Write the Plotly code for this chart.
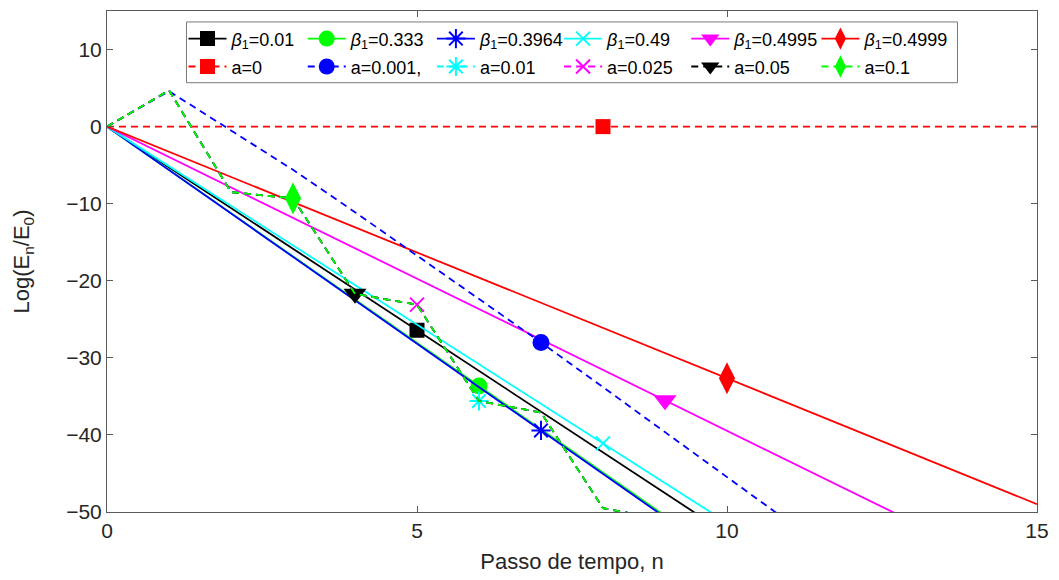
import plotly.graph_objects as go

# ---------------- data ----------------
n = [0, 1, 2, 3, 4, 5, 6, 7, 8, 9, 10, 11, 12, 13, 14, 15]

beta_labels = ["0.01", "0.333", "0.3964", "0.49", "0.4995", "0.4999"]
beta_001 = [0, -5.28, -10.57, -15.85, -21.13, -26.42, -31.70, -36.98, -42.26, -47.55, -52.83]
beta_0333 = [0, -5.61, -11.22, -16.83, -22.44, -28.05, -33.65, -39.26, -44.87, -50.48]
beta_03964 = [0, -5.63, -11.26, -16.90, -22.53, -28.16, -33.79, -39.42, -45.06, -50.69]
beta_049 = [0, -5.14, -10.28, -15.41, -20.55, -25.69, -30.83, -35.97, -41.10, -46.24, -51.38]
beta_04995 = [0, -3.95, -7.89, -11.84, -15.78, -19.73, -23.68, -27.62, -31.57, -35.51,
              -39.46, -43.41, -47.35, -51.30]
beta_04999 = [0, -3.27, -6.53, -9.80, -13.06, -16.33, -19.59, -22.86, -26.12, -29.39,
              -32.65, -35.92, -39.18, -42.45, -45.71, -48.98]

a_labels = ["0", "0.001,", "0.01", "0.025", "0.05", "0.1"]
a_0 = [0, 0, 0, 0, 0, 0, 0, 0, 0, 0, 0, 0, 0, 0, 0, 0]
a_0001 = [0, 4.6, -0.5, -5.6, -11.1, -16.7, -22.35, -28.0, -33.8, -39.65, -45.5, -51.3]
a_001 = [0, 4.7, -8.5, -9.3, -21.7, -23.1, -35.6, -37.1, -49.5, -51.0]
a_0025 = [0, 4.7, -8.5, -9.3, -21.7, -23.1, -35.6, -37.1, -49.5, -51.0]
a_005 = [0, 4.7, -8.5, -9.3, -21.7, -23.1, -35.6, -37.1, -49.5, -51.0]
a_01 = [0, 4.7, -8.5, -9.3, -21.7, -23.1, -35.6, -37.1, -49.5, -51.0]

beta_marker_n = [5, 6, 7, 8, 9, 10]
a_marker_n = [8, 7, 6, 5, 4, 3]

# ---------------- styles ----------------
colors_beta = ["#000000", "#00ff00", "#0000ff", "#00ffff", "#ff00ff", "#ff0000"]
colors_a = ["#ff0000", "#0000ff", "#00ffff", "#ff00ff", "#000000", "#00ff00"]
symbols = ["square", "circle", "asterisk-open", "x-thin-open", "triangle-down", "diamond-tall"]
sizes = [15, 17, 16, 14, 20, 23]

beta_series = [beta_001, beta_0333, beta_03964, beta_049, beta_04995, beta_04999]
a_series = [a_0, a_0001, a_001, a_0025, a_005, a_01]

FONT = "Liberation Sans, Arial, sans-serif"
L, R, T, B = 107, 16, 10, 67
W, H = 1059, 580
PW, PH = W - L - R, H - T - B

fig = go.Figure()


def add_series(vals, label, color, symbol, size, dash, mark_n, legend_id):
    xs = n[:len(vals)]
    line = dict(color=color, width=1.8, dash=dash)
    fig.add_trace(go.Scatter(x=xs, y=vals, mode="lines", line=line,
                             showlegend=False, hoverinfo="skip"))
    idx = xs.index(mark_n)
    open_sym = symbol.endswith("-open")
    marker = dict(symbol=symbol, size=size, color=color,
                  line=dict(color=color, width=2 if open_sym else 0))
    fig.add_trace(go.Scatter(x=[xs[idx]], y=[vals[idx]], mode="lines+markers",
                             line=line, marker=marker, name=label,
                             legend=legend_id, showlegend=True))


col_px = [187, 307, 437, 565, 693, 824]
row_py = [38, 66]

legend_layouts = {}
k = 0
for i in range(6):
    k += 1
    lid = "legend" if k == 1 else f"legend{k}"
    add_series(beta_series[i], "<i>β</i><sub>1</sub>=" + beta_labels[i], colors_beta[i],
               symbols[i], sizes[i], "solid", beta_marker_n[i], lid)
    legend_layouts[lid] = dict(x=(col_px[i] - L - 3) / PW, y=(H - B - row_py[0]) / PH)
for i in range(6):
    k += 1
    lid = f"legend{k}"
    add_series(a_series[i], "a=" + a_labels[i], colors_a[i],
               symbols[i], sizes[i], "7px,5px", a_marker_n[i], lid)
    legend_layouts[lid] = dict(x=(col_px[i] - L - 3) / PW, y=(H - B - row_py[1]) / PH)

layout_legends = {}
for lid, pos in legend_layouts.items():
    layout_legends[lid] = dict(x=pos["x"], y=pos["y"], xanchor="left", yanchor="middle",
                               bgcolor="rgba(0,0,0,0)", borderwidth=0, itemwidth=38,
                               font=dict(family=FONT, size=18, color="#000000"),
                               orientation="v", tracegroupgap=0)

axis_common = dict(showgrid=False, zeroline=False, showline=True, linecolor="#5a5a5a",
                   linewidth=1, mirror="ticks", ticks="inside", ticklen=6,
                   tickcolor="#5a5a5a", tickfont=dict(family=FONT, size=21, color="#262626"))

fig.update_layout(
    width=W, height=H,
    margin=dict(l=L, r=R, t=T, b=B),
    paper_bgcolor="white", plot_bgcolor="white",
    xaxis=dict(range=[0, 15], tickvals=[0, 5, 10, 15], **axis_common,
               title=dict(text="Passo de tempo, n", font=dict(family=FONT, size=22, color="#262626"),
                          standoff=12)),
    yaxis=dict(range=[-50, 15], tickvals=[-50, -40, -30, -20, -10, 0, 10], **axis_common,
               title=dict(text="Log(E<sub>n</sub>/E<sub>0</sub>)",
                          font=dict(family=FONT, size=22, color="#262626"), standoff=30)),
    shapes=[dict(type="rect", xref="paper", yref="paper",
                 x0=(187 - L) / PW, x1=(963 - L) / PW,
                 y0=(H - B - 82) / PH, y1=(H - B - 21) / PH,
                 line=dict(color="#7a7a7a", width=1), fillcolor="white", layer="above")],
    **layout_legends,
)

fig.write_html("out.html")
